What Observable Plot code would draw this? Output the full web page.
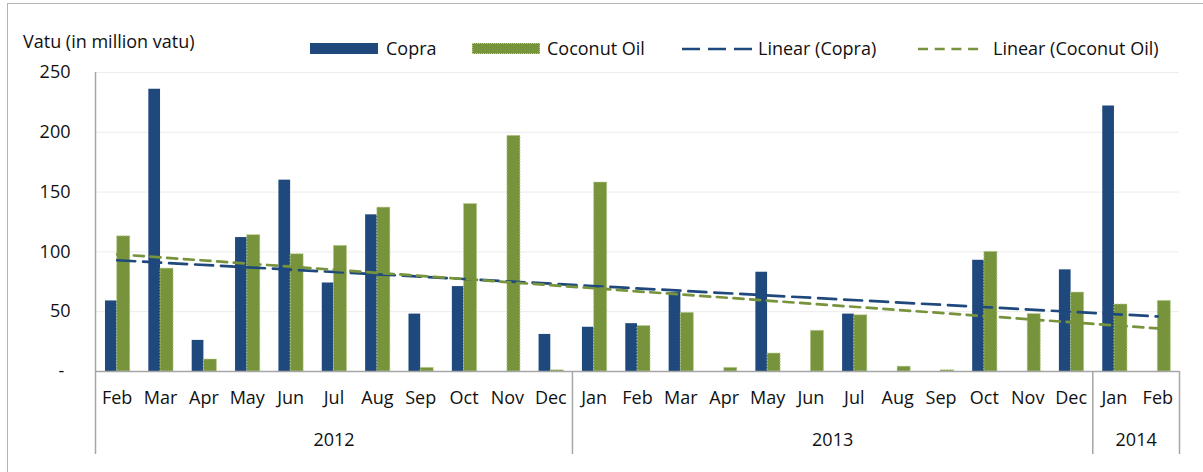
<!DOCTYPE html>
<html>
<head>
<meta charset="utf-8">
<script src="https://cdn.jsdelivr.net/npm/d3@7"></script>
<script src="https://cdn.jsdelivr.net/npm/@observablehq/plot@0.6"></script>
<style>
  body { margin: 0; background: #fff; font-family: "Open Sans", sans-serif; }
  #wrap { position: relative; width: 1203px; height: 472px; overflow: hidden; background: #fff; }
  #frame { position: absolute; left: 7px; top: 3px; width: 1400px; height: 700px;
           border-left: 1.5px solid #b3b3b3; border-top: 1.5px solid #b3b3b3; }
  .lbl { position: absolute; font-size: 18px; line-height: 18px; color: #111; white-space: nowrap; }
  .sw { position: absolute; box-sizing: border-box; }
  #chart { position: absolute; left: 0; top: 60px; }
</style>
</head>
<body>
<div id="wrap">
  <div id="frame"></div>
  <div id="legend"></div>
  <div id="chart"></div>
</div>
<script>
// ---- data ----
const months = ["Feb","Mar","Apr","May","Jun","Jul","Aug","Sep","Oct","Nov","Dec",
                "Jan","Feb","Mar","Apr","May","Jun","Jul","Aug","Sep","Oct","Nov","Dec",
                "Jan","Feb"];
const years = ["2012", "2013", "2014"];
const monthsPerYear = [11, 12, 2];
const copra = [59, 236, 26, 112, 160, 74, 131, 48, 71, 0, 31,
               37, 40, 66, 0, 83, 0, 48, 0, 0, 93, 0, 85,
               222, 0];
const coconutOil = [113, 86, 10, 114, 98, 105, 137, 3, 140, 197, 1,
                    158, 38, 49, 3, 15, 34, 47, 4, 1, 100, 48, 66,
                    56, 59];
// trend line end values (first and last month)
const trendCopra = [93, 46];
const trendOil = [98, 36];
const yTicks = [0, 50, 100, 150, 200, 250];
const seriesNames = ["Copra", "Coconut Oil", "Linear (Copra)", "Linear (Coconut Oil)"];
const yLabel = "Vatu (in million vatu)";

const BLUE = "#1F497D", GREEN = "#77933C", AXIS = "#a6a6a6";

// ---- tables ----
const rows = months.map((m, k) => ({i: k + 1, month: m, copra: copra[k], oil: coconutOil[k]}));
let start = 0;
const yearRows = years.map((y, k) => {
  const r = {year: y, first: start + 1, last: start + monthsPerYear[k]};
  r.mid = (r.first + r.last) / 2;
  start += monthsPerYear[k];
  return r;
});
const seps = yearRows.map(r => r.last + 0.5);
const n = months.length;
const tC = [{i: 1, v: trendCopra[0]}, {i: n, v: trendCopra[1]}];
const tO = [{i: 1, v: trendOil[0]}, {i: n, v: trendOil[1]}];

// ---- header (y label + legend) ----
const legend = document.getElementById("legend");
function add(html) { legend.insertAdjacentHTML("beforeend", html); }
add(`<div class="lbl" style="left:23px;top:32px">${yLabel}</div>`);
add(`<div class="sw" style="left:310px;top:43px;width:68px;height:11px;background:${BLUE}"></div>`);
add(`<div class="lbl" style="left:386px;top:39px">${seriesNames[0]}</div>`);
add(`<div class="sw" style="left:472px;top:43px;width:68px;height:11px;background:${GREEN};border:1px dotted #b9d08e"></div>`);
add(`<div class="lbl" style="left:547px;top:39px">${seriesNames[1]}</div>`);
add(`<svg class="sw" style="left:682px;top:44px" width="70" height="10"><line x1="0" x2="70" y1="5" y2="5" stroke="${BLUE}" stroke-width="2.7" stroke-dasharray="18,8"/></svg>`);
add(`<div class="lbl" style="left:758px;top:39px">${seriesNames[2]}</div>`);
add(`<svg class="sw" style="left:918px;top:44px" width="61" height="10"><line x1="0" x2="61" y1="5" y2="5" stroke="${GREEN}" stroke-width="2.7" stroke-dasharray="10,6.7"/></svg>`);
add(`<div class="lbl" style="left:993px;top:39px">${seriesNames[3]}</div>`);

// ---- chart ----
const chart = Plot.plot({
  width: 1203,
  height: 412,
  marginLeft: 95,
  marginRight: 24,
  marginTop: 12,
  marginBottom: 101,
  x: {domain: [0.5, n + 0.5], axis: null},
  y: {domain: [0, 250], axis: null},
  style: {fontFamily: "Open Sans", fontSize: "18px", overflow: "visible", background: "transparent"},
  marks: [
    Plot.ruleY(yTicks.filter(d => d > 0), {stroke: "#ececec", strokeWidth: 1}),
    Plot.rectY(rows.filter(d => d.copra > 0), {
      x1: d => d.i - 0.27, x2: d => d.i, y1: 0, y2: "copra", fill: BLUE
    }),
    Plot.rectY(rows.filter(d => d.oil > 0), {
      x1: d => d.i, x2: d => d.i + 0.3, y1: 0, y2: "oil", fill: GREEN,
      stroke: "#b2ca85", strokeWidth: 1, strokeDasharray: "1.5,1.5"
    }),
    Plot.line(tC, {x: "i", y: "v", stroke: BLUE, strokeWidth: 2.7, strokeDasharray: "18,8"}),
    Plot.line(tO, {x: "i", y: "v", stroke: GREEN, strokeWidth: 2.7, strokeDasharray: "10,6.7"}),
    Plot.ruleY([0], {stroke: AXIS, strokeWidth: 1.5}),
    Plot.ruleX([0.5], {y1: 250, y2: 0, insetBottom: -83, stroke: AXIS, strokeWidth: 1.5}),
    Plot.ruleX(seps, {y1: 0, y2: 0, insetBottom: -83, stroke: AXIS, strokeWidth: 1.5}),
    Plot.text(rows, {x: "i", y: 0, text: "month", dy: 27, fill: "#111"}),
    Plot.text(yearRows, {x: "mid", y: 0, text: "year", dy: 69, fill: "#111"}),
    Plot.text(yTicks.filter(d => d > 0), {y: d => d, frameAnchor: "left", dx: -25, textAnchor: "end", text: d => String(d), fill: "#111"}),
    Plot.text(yTicks.filter(d => d === 0), {y: d => d, frameAnchor: "left", dx: -37, text: () => "-", fill: "#111"})
  ]
});
document.getElementById("chart").appendChild(chart);
</script>
</body>
</html>
